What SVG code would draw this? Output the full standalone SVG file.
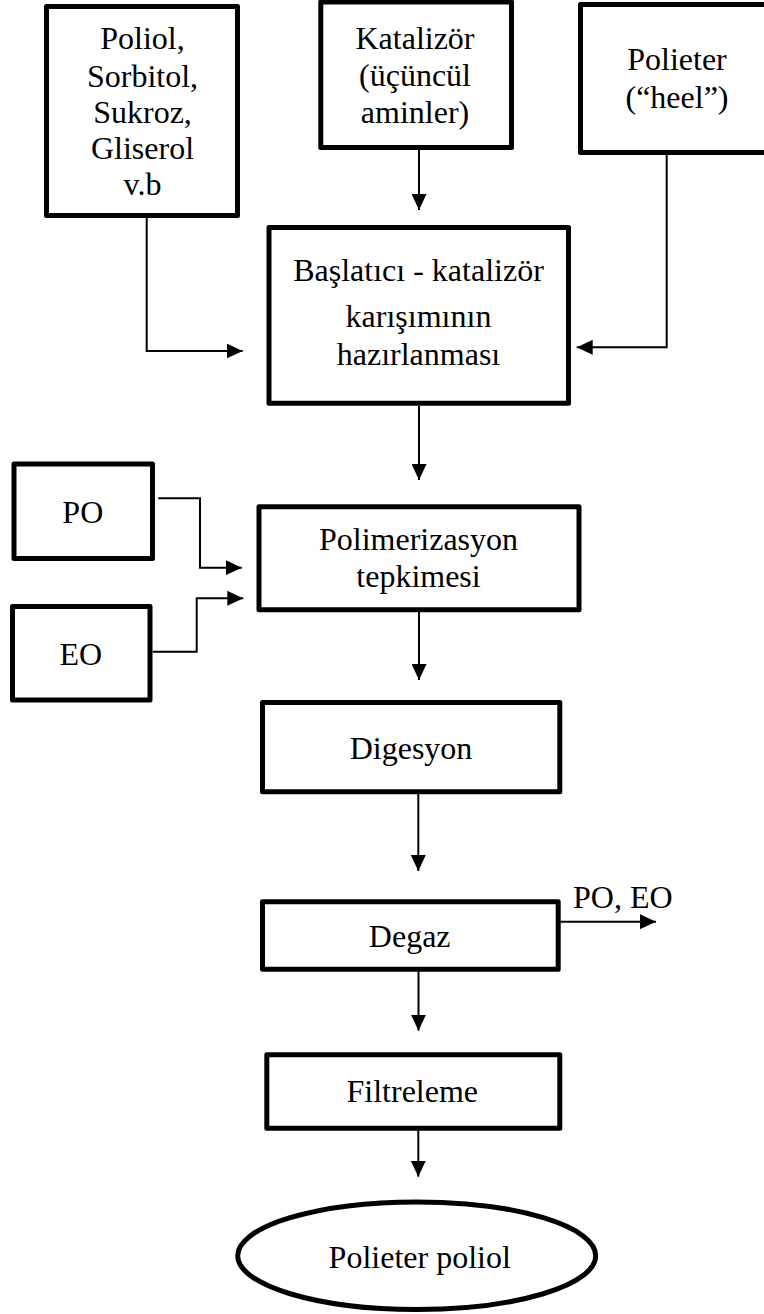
<svg xmlns="http://www.w3.org/2000/svg" width="764" height="1314" viewBox="0 0 764 1314">
  <style>
    .box { fill: #ffffff; stroke: #000000; stroke-width: 5; stroke-linejoin: round; }
    .lbl { font-family: "Liberation Serif", "Times New Roman", serif; font-size: 32px; fill: #000000; text-anchor: middle; }
    .conn { fill: none; stroke: #000000; stroke-width: 2; marker-end: url(#arrow); }
  </style>
  <defs>
    <marker id="arrow" markerUnits="userSpaceOnUse" markerWidth="16" markerHeight="15" refX="16" refY="7.5" orient="auto">
      <path d="M0,0 L16,7.5 L0,15 Z" fill="#000000"/>
    </marker>
  </defs>
  <rect width="764" height="1314" fill="#ffffff"/>

  <!-- raw materials -->
  <g id="node-starters">
    <rect class="box" x="46.5" y="6.5" width="191" height="209"/>
    <text class="lbl" x="142.5" y="49">Poliol,</text>
    <text class="lbl" x="142.5" y="87">Sorbitol,</text>
    <text class="lbl" x="142.5" y="123">Sukroz,</text>
    <text class="lbl" x="142.5" y="159">Gliserol</text>
    <text class="lbl" x="142.5" y="195">v.b</text>
  </g>
  <g id="node-catalyst">
    <rect class="box" x="320.8" y="2" width="190.7" height="145.5"/>
    <text class="lbl" x="415" y="49">Katalizör</text>
    <text class="lbl" x="415" y="86">(üçüncül</text>
    <text class="lbl" x="415" y="122.5">aminler)</text>
  </g>
  <g id="node-heel">
    <rect class="box" x="580.5" y="4.5" width="193" height="148"/>
    <text class="lbl" x="677" y="70">Polieter</text>
    <text class="lbl" x="677" y="108">(“heel”)</text>
  </g>

  <!-- process steps -->
  <g id="node-mixing">
    <rect class="box" x="269" y="227.5" width="299.5" height="175.8"/>
    <text class="lbl" x="418.5" y="281">Başlatıcı - katalizör</text>
    <text class="lbl" x="418.5" y="327">karışımının</text>
    <text class="lbl" x="418.5" y="365">hazırlanması</text>
  </g>
  <g id="node-po">
    <rect class="box" x="14" y="464" width="138.5" height="94.5"/>
    <text class="lbl" x="82.8" y="523.3">PO</text>
  </g>
  <g id="node-eo">
    <rect class="box" x="12.5" y="606.5" width="137.5" height="93.5"/>
    <text class="lbl" x="80.8" y="665">EO</text>
  </g>
  <g id="node-polymerization">
    <rect class="box" x="259" y="506.8" width="320" height="103"/>
    <text class="lbl" x="418.5" y="550">Polimerizasyon</text>
    <text class="lbl" x="418.5" y="587">tepkimesi</text>
  </g>
  <g id="node-digestion">
    <rect class="box" x="262.5" y="702.5" width="297.3" height="89.3"/>
    <text class="lbl" x="411" y="759">Digesyon</text>
  </g>
  <g id="node-degas">
    <rect class="box" x="262.5" y="901.8" width="295.7" height="67.4"/>
    <text class="lbl" x="409.7" y="946.7">Degaz</text>
  </g>
  <g id="node-filter">
    <rect class="box" x="266.8" y="1054.8" width="293" height="73.4"/>
    <text class="lbl" x="412.3" y="1101.7">Filtreleme</text>
  </g>
  <g id="node-product">
    <ellipse class="box" cx="416.7" cy="1255.7" rx="179" ry="53.8"/>
    <text class="lbl" x="419.7" y="1268.3">Polieter poliol</text>
  </g>
  <g id="label-offgas">
    <text class="lbl" x="573" y="908" style="text-anchor: start">PO, EO</text>
  </g>

  <!-- connectors -->
  <g id="connectors">
    <path class="conn" d="M146.7,218 V351 H242.7"/>
    <path class="conn" d="M419,150 V210"/>
    <path class="conn" d="M666.7,155 V347.3 H576.7"/>
    <path class="conn" d="M419,406 V480"/>
    <path class="conn" d="M158.3,498.3 H200 V567.7 H241.7"/>
    <path class="conn" d="M152.7,651.7 H196.7 V598.3 H243.3"/>
    <path class="conn" d="M419,612 V680"/>
    <path class="conn" d="M418.3,794 V871"/>
    <path class="conn" d="M560,921.7 H656"/>
    <path class="conn" d="M418.5,971 V1030.7"/>
    <path class="conn" d="M418.3,1130 V1176.7"/>
  </g>
</svg>
